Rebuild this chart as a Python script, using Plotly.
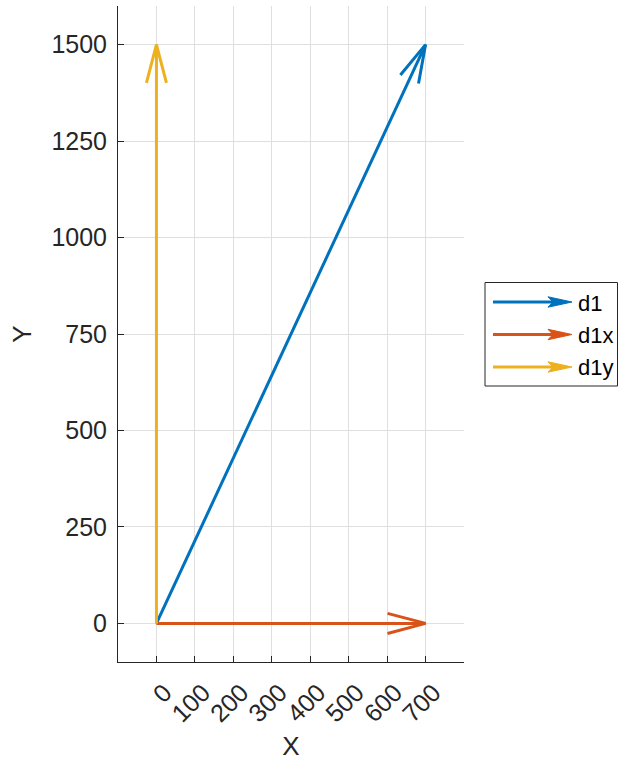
import numpy as np
import plotly.graph_objects as go

# Vectors drawn from a common origin
names = ["d1", "d1x", "d1y"]
x0 = [0, 0, 0]
y0 = [0, 0, 0]
u = [700, 700, 0]
v = [1500, 0, 1500]
colors = ["#0072BD", "#D95319", "#EDB120"]

x_ticks = [0, 100, 200, 300, 400, 500, 600, 700]
y_ticks = [0, 250, 500, 750, 1000, 1250, 1500]
x_range = [-100, 800]
y_range = [-100, 1600]

# figure geometry (pixels)
FIG_W, FIG_H = 619, 761
M_L, M_R, M_T, M_B = 118, 155, 6, 99
PW = FIG_W - M_L - M_R
PH = FIG_H - M_T - M_B

# open arrowhead size in data units (axes use equal scaling)
HEAD_LEN = 99
HEAD_HALF = 26

AX_COLOR = "#262626"
GRID_COLOR = "#dfdfdf"
FONT = "Liberation Sans, Arial, Helvetica, sans-serif"

fig = go.Figure()

for name, xs, ys, du, dv, col in zip(names, x0, y0, u, v, colors):
    xt, yt = xs + du, ys + dv
    # shaft
    fig.add_trace(go.Scatter(
        x=[xs, xt], y=[ys, yt], mode="lines",
        line=dict(color=col, width=3),
        name=name, showlegend=False, hoverinfo="skip",
    ))
    # open V head
    L = np.hypot(du, dv)
    ux, uy = du / L, dv / L
    px, py = -uy, ux
    bx = xt - HEAD_LEN * ux
    by = yt - HEAD_LEN * uy
    fig.add_trace(go.Scatter(
        x=[bx + HEAD_HALF * px, xt, bx - HEAD_HALF * px],
        y=[by + HEAD_HALF * py, yt, by - HEAD_HALF * py],
        mode="lines", line=dict(color=col, width=3),
        showlegend=False, hoverinfo="skip",
    ))


# ---- legend box drawn in paper coordinates ----
def pxx(px):
    return (px - M_L) / PW


def pxy(py):
    return (FIG_H - M_B - py) / PH


shapes = []
annotations = []
LEG_L, LEG_R, LEG_T, LEG_B = 485, 617.5, 282.5, 386
shapes.append(dict(
    type="rect", xref="paper", yref="paper",
    x0=pxx(LEG_L), x1=pxx(LEG_R), y0=pxy(LEG_B), y1=pxy(LEG_T),
    line=dict(color=AX_COLOR, width=1), fillcolor="white", layer="above",
))
row_y = [302, 334.5, 367]
for name, col, ry in zip(names, colors, row_y):
    shapes.append(dict(
        type="line", xref="paper", yref="paper",
        x0=pxx(493), x1=pxx(556), y0=pxy(ry), y1=pxy(ry),
        line=dict(color=col, width=3), layer="above",
    ))
    pts = [(572, ry), (548, ry - 5.2), (553, ry), (548, ry + 5.2)]
    path = "M " + " L ".join(f"{pxx(a):.5f},{pxy(b):.5f}" for a, b in pts) + " Z"
    shapes.append(dict(
        type="path", xref="paper", yref="paper", path=path,
        fillcolor=col, line=dict(color=col, width=1), layer="above",
    ))
    annotations.append(dict(
        x=pxx(576), y=pxy(ry + 1), xref="paper", yref="paper",
        text=name, showarrow=False, xanchor="left", yanchor="middle",
        font=dict(family=FONT, size=22, color="#000000"),
    ))

fig.update_layout(
    width=FIG_W, height=FIG_H,
    margin=dict(l=M_L, r=M_R, t=M_T, b=M_B, pad=0, autoexpand=False),
    paper_bgcolor="white", plot_bgcolor="white",
    showlegend=False,
    shapes=shapes, annotations=annotations,
    font=dict(family=FONT, color=AX_COLOR),
)
fig.update_xaxes(
    range=x_range, tickvals=x_ticks, ticktext=[str(t) for t in x_ticks],
    tickangle=-45, tickfont=dict(size=25, color=AX_COLOR),
    ticks="inside", ticklen=6, tickcolor=AX_COLOR,
    ticklabelstandoff=5, ticklabelshift=8, automargin=False,
    showline=True, linecolor=AX_COLOR, linewidth=1, mirror=False,
    showgrid=True, gridcolor=GRID_COLOR, gridwidth=1, zeroline=False,
    title=dict(text="X", font=dict(size=26, color=AX_COLOR), standoff=12),
)
fig.update_yaxes(
    range=y_range, tickvals=y_ticks, ticktext=[str(t) for t in y_ticks],
    tickfont=dict(size=25, color=AX_COLOR),
    ticks="inside", ticklen=6, tickcolor=AX_COLOR,
    showline=True, linecolor=AX_COLOR, linewidth=1, mirror=False,
    showgrid=True, gridcolor=GRID_COLOR, gridwidth=1, zeroline=False,
    title=dict(text="Y", font=dict(size=26, color=AX_COLOR), standoff=12),
    ticklabelstandoff=5, automargin=False,
)

fig.write_html("out.html")
